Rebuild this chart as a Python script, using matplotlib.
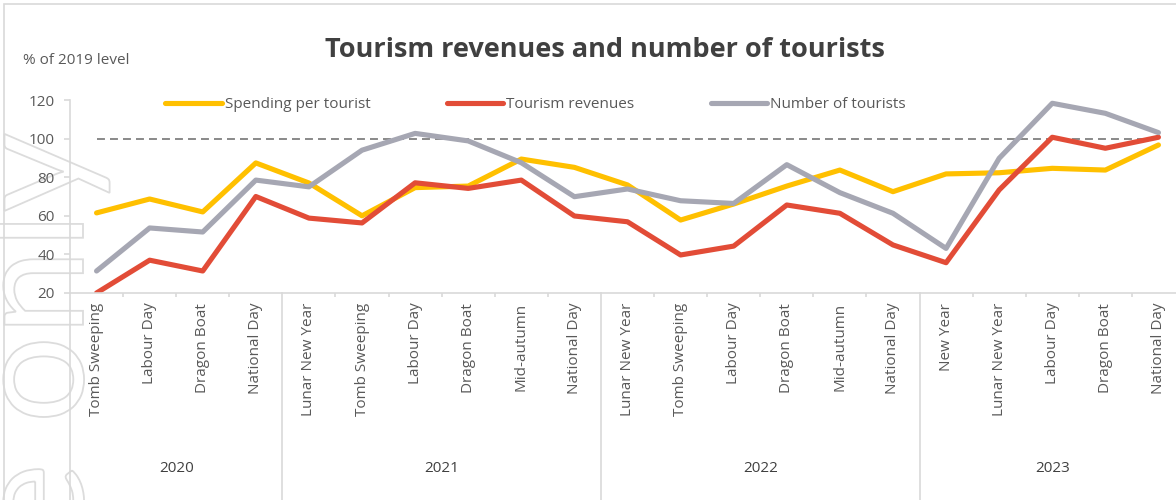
import matplotlib
matplotlib.use("Agg")
import matplotlib.pyplot as plt
import numpy as np
from matplotlib.textpath import TextPath
from matplotlib.patches import PathPatch, Rectangle
from matplotlib.font_manager import FontProperties
from matplotlib.transforms import Affine2D

plt.rcParams["font.family"] = ["Open Sans", "DejaVu Sans"]

# holidays grouped by year
years = ["2020", "2021", "2022", "2023"]
holidays = [
    ["Tomb Sweeping", "Labour Day", "Dragon Boat", "National Day"],
    ["Lunar New Year", "Tomb Sweeping", "Labour Day", "Dragon Boat", "Mid-autumn", "National Day"],
    ["Lunar New Year", "Tomb Sweeping", "Labour Day", "Dragon Boat", "Mid-autumn", "National Day"],
    ["New Year", "Lunar New Year", "Labour Day", "Dragon Boat", "National Day"],
]

# % of 2019 level
spending = [61.5, 68.7, 62, 87.4, 77, 60, 74.6, 75.4, 89.4, 85.1, 76,
            57.8, 66.1, 75.4, 83.7, 72.5, 81.7, 82.3, 84.6, 83.7, 96.7]
revenues = [20, 37, 31.4, 70, 58.8, 56.3, 77.1, 74.2, 78.5, 59.9, 56.9,
            39.7, 44.3, 65.6, 61.3, 44.9, 35.7, 73.4, 100.7, 95, 100.7]
tourists = [31.4, 53.7, 51.6, 78.5, 75, 94, 102.7, 98.8, 87.5, 69.9, 73.9,
            67.8, 66.4, 86.5, 72, 61.3, 43.1, 89.8, 118.3, 113.1, 103.1]
baseline = 100

W, H = 1176, 500
fig = plt.figure(figsize=(W / 100, H / 100), dpi=100)
fig.patch.set_facecolor("white")

GRID = "#d9d9d9"
TEXT = "#595959"
DARK = "#404040"
FS = 11

# faint outlined watermark on the left, reading upwards
wm_font = FontProperties(family="Lato")
wm_size = 155
tp = TextPath((0, 0), "Reference only", size=wm_size, prop=wm_font)
lead = TextPath((0, 0), "Reference o", size=wm_size, prop=wm_font).get_extents()
o_ext = TextPath((0, 0), "o", size=wm_size, prop=wm_font).get_extents()
o_start = lead.x1 - o_ext.width
wm = PathPatch(tp, transform=Affine2D().rotate_deg(90).translate(83, (H - 417) - o_start),
               fill=False, edgecolor="#dcdcdc", lw=1.3, zorder=-5)
fig.add_artist(wm)

# thin frame
fig.add_artist(Rectangle((4 / W, -0.1), 1.2, 1 - 4 / H + 0.1, transform=fig.transFigure,
                         fill=False, edgecolor=GRID, lw=1.2, zorder=-4))

ax = fig.add_axes([70 / W, (H - 293) / H, 1115 / W, 193 / H])
ax.patch.set_visible(False)

labels = [h for grp in holidays for h in grp]
n = len(labels)
x = np.arange(n)

ax.plot(x, [baseline] * n, color="#808080", lw=1.3, linestyle=(0, (4.4, 2.8)), zorder=1)

series = [
    ("Spending per tourist", spending, "#FFC000"),
    ("Tourism revenues", revenues, "#E24C37"),
    ("Number of tourists", tourists, "#A6A7B3"),
]
for name, vals, col in series:
    ax.plot(x, vals, color=col, lw=3.7, label=name, solid_capstyle="round",
            solid_joinstyle="round", zorder=2)

ax.set_xlim(-0.5, n - 0.5)
ax.set_ylim(20, 120)
ax.set_yticks(range(20, 121, 20))

for s in ["top", "right"]:
    ax.spines[s].set_visible(False)
for s in ["left", "bottom"]:
    ax.spines[s].set_color(GRID)
    ax.spines[s].set_linewidth(1.2)

ax.tick_params(axis="y", length=4, width=1.2, color=GRID, labelcolor=TEXT,
               labelsize=FS, pad=7)
ax.set_xticks(x)
ax.set_xticklabels(labels, rotation=90, ha="center", va="top")
ax.tick_params(axis="x", which="major", length=0, labelcolor=TEXT, labelsize=FS, pad=7)

# group boundaries and short ticks between holidays
counts = [len(g) for g in holidays]
edges = np.concatenate([[0], np.cumsum(counts)]) - 0.5
minor = [b for b in np.arange(0.5, n - 1, 1) if b not in edges]
ax.set_xticks(minor, minor=True)
ax.tick_params(axis="x", which="minor", length=3, width=1.2, color=GRID)

xt = ax.get_xaxis_transform()
for e in edges:
    ax.plot([e, e], [0, -1.1], transform=xt, color=GRID, lw=1.2, clip_on=False)
for yr, lo, hi in zip(years, edges[:-1], edges[1:]):
    ax.text((lo + hi) / 2, -(468 - 293) / 193, yr, transform=xt, ha="center",
            va="center", fontsize=FS, color=DARK)

fig.text(605 / W, 1 - 50 / H, "Tourism revenues and number of tourists", ha="center",
         va="center", fontsize=19.5, fontweight="bold", color=DARK)
fig.text(23 / W, 1 - 60 / H, "% of 2019 level", ha="left", va="center",
         fontsize=FS, color=TEXT)

leg = fig.legend(loc="center left", bbox_to_anchor=(165 / W, 1 - 105 / H), ncol=3,
                 frameon=False, fontsize=FS, handlelength=3.7, handletextpad=0.2,
                 columnspacing=5.0, borderpad=0, borderaxespad=0)
for t in leg.get_texts():
    t.set_color(TEXT)

fig.savefig("out.png", dpi=100, facecolor="white")
